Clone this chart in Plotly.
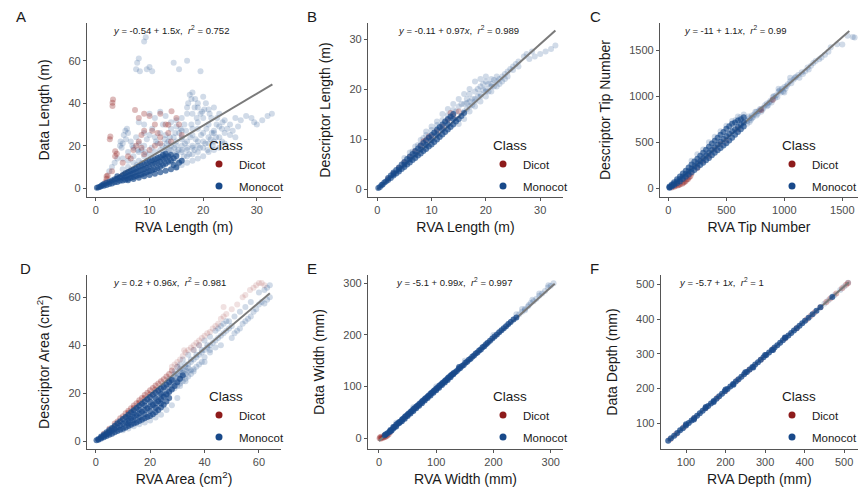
import plotly.graph_objects as go

W, H = 858, 493
FONT = "Liberation Sans, Arial, sans-serif"
DICOT = "#8E1B1B"
MONO = "#18498A"

# ---------------- DATA ----------------
classes = ["Dicot", "Monocot"]

# Panel A : RVA Length vs Data Length (m)
a_dicot = [(1.8,3),(2.0,4.5),(2.0,5.6),(2.2,6),(3.0,8),(2.7,24.4),(2.6,23),(3.1,38.7),(3.1,40.2),(3.2,41.7),
           (3.6,17.4),(3.6,15),(3.9,16.2),(5,12),(6,15),(7,18),(7.5,20),(8,22),(8.5,25),(9,27),(8,33),(9,35),
           (10,34),(11,30),(12,35),(13,30),(14.1,36.2),(13.5,29.9),(15,33),(15.5,30),(13.5,26),(12,24),(11,20),
           (10,18),(9,16),(12,21),(14,22),(16,25),(7.3,36.8),(10.5,27),(11.5,26),(6.5,14),(8.5,19)]
a_mono_halo = [(4.5,20),(5.0,21),(5.5,27),(6.0,26),(5.8,28),(4.8,19),(6.5,22),(7.0,19),(6.0,17),(7.5,24),(8.0,21),
               (8.5,18),(9.0,20),(9.5,23),(10.0,25),(10.5,28),(11.0,24),(11.5,21),(12.0,26),(12.5,30),(13.0,25),
               (13.5,22),(14.0,28),(14.5,24),(15.0,20),(15.5,26),(16.0,23),(16.5,30),(17.0,35),(17.2,40),(17.5,44),
               (18.0,45),(18.5,42),(19.0,38),(19.5,35),(20.0,43),(20.5,40),(21.0,37),(21.5,33),(22.0,38),(22.5,30),
               (23.0,35),(23.5,28),(24.0,32),(25.0,30),(19.0,28),(18.0,25),(17.0,22),(20.0,26),(21.0,24),(22.0,27),
               (19.0,20),(16.0,18),(17.0,18),(18.0,20),(20.0,22),(12.0,18),(13.0,19),(11.0,17),(10.0,16),(9.0,15),
               (8.0,13),(7.0,12),(6.0,10),(5.0,9),(14.0,18),(15.0,17),(16.0,20),
               (26.0,33),(27.0,32),(28.0,34),(29.0,33),(30.0,30),(31.0,32),(32.0,34),(32.8,35),(29.5,31),(24.0,21),(26.0,24),
               (3.0,10),(3.5,12),(4.0,14),(2.5,8),(5.0,14),(6.0,13),(7.0,15),(8.0,17),(9.0,30),(10.0,35),(11.0,33),
               (12.0,36),(13.0,34),(14.0,31),(15.0,29),(16.0,27),(8.0,31),(9.0,26),
               (7.5,56),(7.7,59),(8.0,61),(9.0,69),(9.3,71),(8.2,55),(10.0,57),(9.5,56),(10.5,55),(14.5,59),(15.5,56),
               (17.0,60),(19.5,55),
               (15,10),(16,11),(17,12),(18,13),(19,14),(20,15),(16,13),(18,16),(21,17),(22,18),(23,19),(14,12),(15,13),
               (17,15),(19,17),(13,15),(14,16),(15,16),(16,17),(17,19),(18,19),(19,22),(20,19),(21,21),(22,22),(23,24),
               (24,26),(13,17),(14,20),(15,22),(16,24),(18,28),(19,31),(20,33),(21,30),(22,26),(23,29),(18,35),(19,40),
               (17,38),(16,33),(15,32),
               (5.2,25),(5.6,23),(4.6,22),(6.8,20),(7.8,18),(9.2,17),(10.4,19),(11.2,22),(12.4,20),(13.2,21),(14.6,19),
               (15.4,18),(16.6,21),(17.6,24),(18.6,23),(19.6,25),(20.6,28),(21.6,26),(12.8,23),(13.8,24),(14.8,26),
               (15.8,28),(16.8,27),(17.8,30),(18.8,33),(19.8,36),(10.6,14),(11.6,15),(12.6,16),(13.6,18),(9.6,13),
               (8.6,12),(7.6,11),(6.6,9),(16.4,15),(17.4,16),(18.4,18),(19.4,19),(20.4,21),(21.4,23),(22.4,24),
               (24.5,28),(25.5,27),(26.5,29),(23.5,22),(25.0,25),(20.8,18),(21.8,20),(17.8,42),(18.4,38),(20.2,37),
               (21.2,35),(22.6,33),(23.6,31)]
a_mono_core = [(0.2,0.2),(0.5,0.5),(0.8,0.7),(1.0,1.1),(1.2,1.5),(1.5,1.2),(1.5,2.0),(2.0,1.6),(2.0,2.6),(2.5,2.0),
               (2.5,3.1),(3.0,2.3),(3.0,3.6),(3.5,2.8),(3.5,4.3),(4.0,3.0),(4.0,4.5),(4.0,5.6),(4.5,3.5),(4.5,5.1),
               (5.0,3.6),(5.0,4.9),(5.0,6.3),(5.5,4.0),(5.5,5.6),(5.5,7.1),(6.0,4.5),(6.0,6.1),(6.0,7.6),(6.5,5.0),
               (6.5,6.6),(6.5,8.1),(7.0,5.3),(7.0,7.1),(7.0,8.7),(7.5,5.8),(7.5,7.6),(7.5,9.3),(8.0,6.1),(8.0,8.1),
               (8.0,10.1),(8.5,6.5),(8.5,8.6),(8.5,10.6),(9.0,7.0),(9.0,9.1),(9.0,11.2),(9.5,7.5),(9.5,9.6),(9.5,11.9),
               (10.0,8.0),(10.0,10.2),(10.0,12.6),(10.5,8.5),(10.5,11.1),(10.5,13.1),(11.0,9.0),(11.0,11.6),(11.0,13.6),
               (11.5,9.5),(11.5,12.1),(11.5,14.2),(12.0,10.1),(12.0,12.6),(12.0,14.7),(12.5,11.0),(12.5,13.6),
               (12.5,15.6),(13.0,11.5),(13.0,14.1),(13.0,16.2),(13.5,12.5),(13.5,15.1),(14.0,13.1),(14.0,15.6),
               (14.5,14.1),(15.0,15.2),
               (6.0,3.8),(7.0,4.4),(8.0,5.0),(9.0,5.6),(10.0,6.2),(11.0,6.8),(12.0,7.5),(13.0,8.2),(14.0,9.0),
               (15.0,9.8),(14.5,11.0),(15.5,12.0),(16.0,13.0)]
a_fit = [-0.54, 1.5]          # intercept, slope
a_fit_x = [0.0, 32.9]

# Panel B : RVA Length vs Descriptor Length (m)
b_dicot = [(2,2),(3,3.1),(4,4.2),(5,5.3),(6,6.4),(7,7.5),(8,8.6),(9,9.8),(10,10.5),(11,11.6),(12,12.5),(13,13.8),
           (14,14.6),(15,15.5),(9.5,10.5),(13.5,15.2),(8.5,9.5)]
b_mono_halo = [(16,17),(16.5,16),(17,17.5),(17,19),(17.5,18),(18,19.5),(18,18),(18.5,20),(19,18.5),(19,20.5),
               (19.5,21),(20,20),(20,21.5),(20.5,19.5),(21,21),(21,22),(21.5,20.5),(22,21.5),(22,22.5),(22.5,22),
               (23,22.5),(23.5,23),(24,23.5),(24.5,24),(25,24.5),(25.5,25),(26,25.5),(27,26.5),(27.5,27),(28,26),
               (28.5,27.5),(29,26.5),(30,27),(31,27.5),(32,28),(32.8,28.7),(15,16.5),(14,15.8),(13,14.8),(12,13.8),
               (11,12.8),(10,11.8),(9,10.8),(8,9.8),(7,8.5),(6,7.3),(5,6.2),(15,13),(16,14),(17,15.5),(18,16.5),
               (19,17.5),(20,18.5),(21,19.5),(12,15),(13,16),(14,17),(15,18),(16,19),(17,20),(18,21.5),(19,22),
               (20,22.5),(10,12.5),(11,13.5),(9,11.5),(15.5,17),(16.5,18),
               (16,15.5),(17,16.5),(18,17.5),(19,19),(20,19.5),(21,20.5),(22,20.5),(23,21.5),(16.5,17.2),(17.5,16.8),
               (18.5,18.5),(19.5,19.8),(20.5,21),(21.5,21.8),(22.5,21),(23.5,22),(14.5,15.5),(13.5,14.2),(12.5,13.2),
               (11.5,12.2),(10.5,11.2),(9.5,10.2),(7.5,8.8),(6.5,7.5),(8.5,10.2),(24,22.5),(25,23.8),(26,24.5)]
b_mono_core = [(0.2,0.2),(0.5,0.4),(0.8,0.8),(1.0,0.9),(1.3,1.3),(1.6,1.5),(2.0,1.8),(2.0,2.2),(2.5,2.2),(2.5,2.7),
               (3.0,2.7),(3.0,3.3),(3.5,3.1),(3.5,3.8),(4.0,3.5),(4.0,4.3),(4.5,4.0),(4.5,4.9),(5.0,4.4),(5.0,5.4),
               (5.5,4.9),(5.5,6.0),(6.0,5.3),(6.0,6.5),(6.5,5.8),(6.5,7.0),(7.0,6.2),(7.0,7.6),(7.5,6.7),(7.5,8.1),
               (8.0,7.1),(8.0,8.7),(8.5,7.6),(8.5,9.2),(9.0,8.0),(9.0,9.7),(9.5,8.5),(9.5,10.3),(10.0,8.9),(10.0,10.8),
               (10.5,9.4),(10.5,11.3),(11.0,9.9),(11.0,11.9),(11.5,10.4),(11.5,12.4),(12.0,10.9),(12.0,12.9),
               (12.5,11.4),(12.5,13.5),(13.0,11.9),(13.0,14.0),(13.5,12.4),(13.5,14.5),(14.0,12.9),(14.0,15.0),
               (14.5,13.5),(15.0,14.0),(15.5,14.6),(16.0,15.2),(3.0,3.0),(5.0,4.9),(7.0,6.9),(9.0,8.8),(11.0,10.9),
               (13.0,12.9),(8.0,7.9),(10,9.8),(12,11.9),(6,5.9),(4,3.9),(14,14)]
b_fit = [-0.11, 0.97]
b_fit_x = [0.0, 32.8]

# Panel C : RVA Tip Number vs Descriptor Tip Number
c_dicot = [(30,10),(50,18),(60,25),(80,30),(90,35),(100,42),(120,50),(130,60),(150,80),(160,95),(170,100),(190,130),
           (300,300),(350,350),(400,420),(450,480),(500,520),(600,640),(800,850),(900,960),(200,160),(250,220),
           (180,120),(140,70)]
c_mono_halo = [(680,730),(700,760),(720,790),(740,800),(760,830),(780,840),(800,860),(820,870),(850,920),(870,930),
               (880,950),(900,990),(920,980),(930,1010),(950,1050),(970,1040),(980,1080),(1000,1100),(1020,1110),
               (1050,1160),(1080,1180),(1100,1210),(1120,1230),(1150,1260),(1180,1270),(1200,1310),(1230,1330),
               (1250,1360),(1300,1400),(1350,1450),(1380,1480),(1400,1530),(1455,1563),(1500,1560),(1545,1654),
               (1590,1640),(1606,1636),(1050,1200),(950,1080),(1000,1040),(600,780),(550,730),(450,620),(400,560),
               (350,500),(500,680),(650,800),(750,830),(850,890),(900,960),(700,720),(800,830),(300,420),(250,370),
               (200,300),(680,700),(720,760),(760,790),(620,770),(580,740),
               (660,740),(690,780),(710,740),(730,770),(770,810),(790,860),(810,850),(830,900),(860,900),(890,930),
               (910,1000),(940,990),(960,1060),(990,1050),(1010,1080),(1030,1130),(1060,1140),(1090,1200),
               (1130,1200),(1160,1240),(1210,1290),(1270,1380),(1320,1420)]
c_mono_core = [(10,5),(10,12),(10,20),(30,20),(30,30),(30,42),(50,35),(50,50),(50,65),(75,55),(75,75),(75,98),
               (100,75),(100,100),(100,128),(125,100),(125,128),(125,160),(150,125),(150,155),(150,192),
               (175,150),(175,185),(175,225),(200,175),(200,212),(200,258),(225,200),(225,240),(225,290),
               (250,225),(250,268),(250,322),(275,252),(275,296),(275,352),(300,278),(300,325),(300,385),
               (325,305),(325,355),(325,418),(350,330),(350,385),(350,450),(375,358),(375,415),(375,485),
               (400,385),(400,445),(400,515),(425,412),(425,475),(425,548),(450,438),(450,505),(450,580),
               (475,465),(475,535),(475,612),(500,490),(500,565),(500,645),(525,520),(525,592),(525,672),
               (550,548),(550,620),(550,700),(575,580),(575,640),(575,715),(600,610),(600,665),(600,735),
               (625,640),(625,690),(625,750),(650,670),(650,715),(650,770)]
c_fit = [-11.0, 1.1]
c_fit_x = [0.0, 1560.0]

# Panel D : RVA Area vs Descriptor Area (cm2)
d_dicot = [(3,3.1),(5,5.2),(7,7.3),(9,9.5),(10,10.4),(11,11.6),(12,12.7),(13,13.7),(14,14.9),(15,15.8),(16,17.0),
           (17,18.0),(18,19.2),(19,20.2),(20,21.2),(21,22.2),(22,23.2),(23,24.0),(24,25.0),(25,25.8),(26,27),
           (27,28),(28,29.5),(8,8.2),(16,16),(18,18),(20,19.5),(22,21.5),(14,13.8),(12,11.8)]
d_dicot_halo = [(28,31),(29,32),(30,33),(31,34),(32,35.5),(32.5,37.9),(33,37),(34,38),(35,39),(36,40),(37,41),
                (38,42),(39,43),(40,44),(41,45),(42,45.5),(43,47),(44,48),(45,49),(46,51),(47,52),(47,56),(48,53),
                (50,55),(52,57),(54,60),(55,61),(56.7,63),(58,64),(59,65),(60,66),(61,66),(62,65),(36,38),(38,40),
                (30,31)]
d_mono_halo = [(25,20),(26,21),(27,22.5),(28,23.3),(29,24),(30,25),(31,26),(32,27),(33,28),(34,29),(35,29.6),
               (36,30),(37,31),(38,32),(39,33),(30,23),(31,24),(32,25),(33,26),(34,27),(35,28),(36,29),(28,26),
               (29,27),(30,28),(31,29),(32,30),(33,31),(34,32),(35,33),(36,34),(37,35),(38,36),(39,37),(40,38),
               (41,39),(42,40),(42,43.5),(43,41),(44,42),(45,43),(46,44),(47,45),(48,46),(48,50),(49,47),(50,48),
               (50,43),(51,45),(52,46),(53,47),(54,49),(55,50),(56,51),(57,52),(58,54),(59,55),(60,57),(61,58),
               (62,57.4),(63,59),(64,60),(60,62),(62,63),(63,64),(64,65),(57,58),(55,56),(53,54),(51,52),(49,50),
               (46,48),(44,46),(40,42),(38,40),(36,38),(34,36),(32,34),(30,31),(40,35),(42,37),(44,39),(46,40),
               (28,22),(26,19),(24,17),(22,14),(25,23),(27,25),(29,29),(31,32),(45,47),(47,49),(40,33),(42,38),
               (23,19),(24,20),(25,21.5),(26,22.5),(27,23.5),(28,24.5),(29,25.5),(30,26.5),(31,27.5),(32,28.5),
               (33,29.5),(34,30.5),(21,16),(22,17),(23,17.5),(24,18.5),(25,19),(26,20),(27,21),
               (10,4.5),(12,5.3),(14,6.2),(16,7.0),(18,7.8),(20,8.6),(22,9.8),(24,11),(26,13),(28,15),(30,18),
               (27,26),(29,28),(31,30),(33,32),(35,34),(37,36),(39,38),(41,40),(29,22),(31,23),(33,25)]
d_mono_core = [(0.3,0.3),(1,0.6),(1,0.9),(2,1.1),(2,1.5),(2,1.9),(3,1.6),(3,2.2),(3,2.8),(4,2.1),(4,2.9),(4,3.7),
               (5,2.6),(5,3.6),(5,4.6),(6,3.1),(6,4.3),(6,5.5),(7,3.7),(7,5.0),(7,6.4),(8,4.2),(8,5.8),(8,7.4),
               (9,4.7),(9,6.5),(9,8.3),(10,5.2),(10,7.2),(10,9.2),(11,5.7),(11,7.9),(11,10.1),(12,6.3),(12,8.6),
               (12,11.0),(13,6.8),(13,9.4),(13,12.0),(14,7.3),(14,10.1),(14,12.9),(15,7.8),(15,10.8),(15,13.8),
               (16,8.4),(16,11.5),(16,14.7),(17,8.9),(17,12.2),(17,15.6),(18,9.5),(18,13.0),(18,16.5),(19,10.0),
               (19,13.7),(19,17.5),(20,10.5),(20,14.4),(20,18.4),(21,11.2),(21,15.1),(21,19.3),(22,12.0),(22,15.8),
               (22,20.2),(23,13.0),(23,16.6),(23,21.0),(24,14.0),(24,17.5),(24,21.8),(25,15.2),(25,18.5),(26,16.5),
               (26,19.5),(27,18.0),(27,20.5),(12,7.4),(12,9.8),(14,8.7),(14,11.5),(16,9.9),(16,13.1),(18,11.2),
               (18,14.8),(20,12.4),(20,16.4),(22,13.9),(22,18.0),(24,15.7),(24,19.7),(25,22.5),(26,23.5),
               (27,24.5),(28,25.5),(28,21.5),(29,23),(30,24.5),(31,26),(32,27.5)]
d_fit = [0.2, 0.96]
d_fit_x = [0.0, 64.0]

# Panel E : RVA Width vs Data Width (mm)
e_dicot = [(1,0),(3,-1),(5,1),(7,1),(9,2),(11,3),(13,4),(15,6),(17,8),(4,3),(2,2),(10,6),(20,12)]
e_mono_halo = [(245,240),(250,245),(255,250),(260,255),(265,262),(270,265),(275,270),(280,276),(285,280),(290,285),
               (295,292),(300,295),(305,300),(268,268),(240,240),(255,248),(200,200),(150,150),(100,100),(60,60),
               (30,30),(250,250),(262,258),(280,280),(296,296)]
e_mono_core = [(15,10),(18,12),(20,16),(22,15),(25,19),(27,22),(30,23),(32,28),(35,29),(37,32),(40,33),(42,38),
               (45,38),(47,43),(50,43),(52,48),(55,48),(57,53),(60,53),(62,58),(65,58),(67,63),(70,63),(72,68),
               (75,68),(77,73),(80,73),(82,78),(85,78),(87,83),(90,83),(92,88),(95,88),(97,93),(100,93),(102,98),
               (105,98),(107,103),(110,103),(112,108),(115,108),(117,113),(120,113),(122,118),(125,118),(127,123),
               (130,124),(133,128),(136,130),(139,134),(142,136),(145,140),(148,142),(151,146),(154,148),(157,152),
               (160,154),(163,158),(166,160),(169,164),(172,166),(175,170),(178,172),(181,176),(184,178),(187,182),
               (190,185),(194,189),(198,193),(202,197),(206,201),(210,205),(214,209),(218,213),(222,217),(226,221),
               (230,225),(235,230),(240,234),
               (10,6),(12,8),(20,14),(25,22),(30,26),(35,31),(40,36),(45,41),(50,46),(55,51),(60,56),(65,61),
               (70,66),(75,71),(80,76),(85,81),(90,86),(95,91),(100,96),(105,101),(110,106),(115,111),(120,116),
               (125,121),(130,126),(140,138)]
e_fit = [-5.1, 0.99]
e_fit_x = [0.0, 307.0]

# Panel F : RVA Depth vs Data Depth (mm)
f_dicot = [(60,54),(75,69),(95,89),(120,114),(150,144),(180,174),(200,193),(230,224),(260,254),(290,284),(320,314),
           (350,344),(380,374),(405,399),(415,409),(425,419),(440,434),(455,449),(465,459),(480,474),(495,489),
           (505,499),(510,504)]
f_mono_halo = [(450,444),(460,454),(475,469),(490,484),(500,494),(510,505)]
f_mono_core = [(55,50),(62,57),(70,64),(78,72),(85,80),(92,86),(100,94),(107,101),(114,108),(121,115),(128,122),
               (135,129),(142,136),(149,143),(156,150),(163,157),(170,164),(177,171),(184,178),(191,185),(198,192),
               (205,199),(212,206),(219,213),(226,220),(233,227),(240,234),(247,241),(254,248),(261,255),(268,262),
               (275,269),(282,276),(289,283),(296,290),(303,297),(310,304),(317,311),(324,318),(331,325),(338,332),
               (345,339),(352,346),(359,353),(366,360),(373,367),(380,374),(387,381),(394,388),(401,395),(410,404),
               (420,414),(430,424),(440,434),(470,464),(100,97),(150,147),(200,197),(250,247),(300,297),(350,347),
               (120,111),(170,161),(220,211),(270,261),(320,311)]
f_fit = [-5.7, 1.0]
f_fit_x = [55.0, 512.0]

panel_letters = ["A", "B", "C", "D", "E", "F"]
x_titles = ["RVA Length (m)", "RVA Length (m)", "RVA Tip Number",
            "RVA Area (cm<sup>2</sup>)", "RVA Width (mm)", "RVA Depth (mm)"]
y_titles = ["Data Length (m)", "Descriptor Length (m)", "Descriptor Tip Number",
            "Descriptor Area (cm<sup>2</sup>)", "Data Width (mm)", "Data Depth (mm)"]
equations = ["<i>y</i> = -0.54 + 1.5<i>x</i>,  <i>r</i><sup>2</sup> = 0.752",
             "<i>y</i> = -0.11 + 0.97<i>x</i>,  <i>r</i><sup>2</sup> = 0.989",
             "<i>y</i> = -11 + 1.1<i>x</i>,  <i>r</i><sup>2</sup> = 0.99",
             "<i>y</i> = 0.2 + 0.96<i>x</i>,  <i>r</i><sup>2</sup> = 0.981",
             "<i>y</i> = -5.1 + 0.99<i>x</i>,  <i>r</i><sup>2</sup> = 0.997",
             "<i>y</i> = -5.7 + 1<i>x</i>,  <i>r</i><sup>2</sup> = 1"]
x_ticks = [[0, 10, 20, 30], [0, 10, 20, 30], [0, 500, 1000, 1500],
           [0, 20, 40, 60], [0, 100, 200, 300], [100, 200, 300, 400, 500]]
y_ticks = [[0, 20, 40, 60], [0, 10, 20, 30], [0, 500, 1000, 1500],
           [0, 20, 40, 60], [0, 100, 200, 300], [100, 200, 300, 400, 500]]

# ---------------- LAYOUT (pixel geometry) ----------------
panels = [
    dict(px=(87, 281), py=(23, 197), xr=[-1.65, 34.5], yr=[-4.1, 77.7], eq=(171, 30), leg=(207, 132), lt=(14, 16),
         dic=[a_dicot], mh=[a_mono_halo], mc=a_mono_core, fit=a_fit, fx=a_fit_x, co=0.68),
    dict(px=(368, 563), py=(23, 197), xr=[-1.7, 34.2], yr=[-1.6, 33.2], eq=(458, 30), leg=(491, 132), lt=(305, 16),
         dic=[b_dicot], mh=[b_mono_halo], mc=b_mono_core, fit=b_fit, fx=b_fit_x, co=0.68),
    dict(px=(660, 858), py=(23, 197), xr=[-72, 1635], yr=[-94, 1793], eq=(735, 30), leg=(780, 132), lt=(588, 16),
         dic=[c_dicot], mh=[c_mono_halo], mc=c_mono_core, fit=c_fit, fx=c_fit_x, co=0.68),
    dict(px=(87, 281), py=(275, 449), xr=[-3.2, 68.1], yr=[-3.3, 69.3], eq=(169, 282), leg=(207, 383), lt=(18, 268),
         dic=[d_dicot_halo, d_dicot], mh=[d_mono_halo], mc=d_mono_core, fit=d_fit, fx=d_fit_x, co=0.7),
    dict(px=(368, 563), py=(275, 449), xr=[-19.2, 321.5], yr=[-20.7, 316], eq=(454, 282), leg=(491, 383), lt=(305, 268),
         dic=[e_dicot], mh=[e_mono_halo], mc=e_mono_core, fit=e_fit, fx=e_fit_x, co=0.78),
    dict(px=(660.7, 858), py=(275, 449), xr=[36, 535], yr=[26, 527], eq=(721, 282), leg=(780, 383), lt=(588, 268),
         dic=[f_dicot], mh=[f_mono_halo], mc=f_mono_core, fit=f_fit, fx=f_fit_x, co=0.78),
]

fig = go.Figure()
layout = dict(width=W, height=H, margin=dict(l=0, r=0, t=0, b=0, autoexpand=False), paper_bgcolor="white",
              plot_bgcolor="white", font=dict(family=FONT, color="#1a1a1a"), annotations=[])

def xs(pts):
    return [p[0] for p in pts]

def ys(pts):
    return [p[1] for p in pts]

for i, p in enumerate(panels):
    n = i + 1
    sfx = "" if n == 1 else str(n)
    xa, ya = "x" + sfx, "y" + sfx
    leg = "legend" + sfx
    for pts in p["mh"]:
        fig.add_trace(go.Scatter(x=xs(pts), y=ys(pts), mode="markers", xaxis=xa, yaxis=ya,
                                 marker=dict(color=MONO, size=6, opacity=0.2, line=dict(width=0)),
                                 showlegend=False, hoverinfo="skip"))
    for j, pts in enumerate(p["dic"]):
        op = 0.13 if len(p["dic"]) > 1 and j == 0 else 0.3
        fig.add_trace(go.Scatter(x=xs(pts), y=ys(pts), mode="markers", xaxis=xa, yaxis=ya,
                                 marker=dict(color=DICOT, size=6, opacity=op, line=dict(width=0)),
                                 showlegend=False, hoverinfo="skip"))
    b0, b1 = p["fit"]
    fig.add_trace(go.Scatter(x=p["fx"], y=[b0 + b1 * v for v in p["fx"]], mode="lines", xaxis=xa, yaxis=ya,
                             line=dict(color="#7a7a7a", width=2), showlegend=False, hoverinfo="skip"))
    fig.add_trace(go.Scatter(x=xs(p["mc"]), y=ys(p["mc"]), mode="markers", xaxis=xa, yaxis=ya,
                             marker=dict(color=MONO, size=6, opacity=p["co"], line=dict(width=0)),
                             showlegend=False, hoverinfo="skip"))
    for cname, col in zip(classes, [DICOT, MONO]):
        fig.add_trace(go.Scatter(x=[None], y=[None], mode="markers", xaxis=xa, yaxis=ya, name=cname,
                                 marker=dict(color=col, size=7), legend=leg, legendgroup=cname + sfx,
                                 showlegend=True))

    axis_common = dict(showgrid=False, zeroline=False, showline=True, linecolor="#555555", linewidth=1.2,
                       ticks="outside", ticklen=3, tickcolor="#555555", tickwidth=1,
                       tickfont=dict(size=11, color="#4d4d4d", family=FONT))
    layout["xaxis" + sfx] = dict(axis_common, domain=[p["px"][0] / W, p["px"][1] / W], range=p["xr"],
                                 tickvals=x_ticks[i], anchor=ya,
                                 title=dict(text=x_titles[i], font=dict(size=14, color="#1a1a1a"), standoff=6))
    layout["yaxis" + sfx] = dict(axis_common, domain=[1 - p["py"][1] / H, 1 - p["py"][0] / H], range=p["yr"],
                                 tickvals=y_ticks[i], anchor=xa,
                                 title=dict(text=y_titles[i], font=dict(size=14, color="#1a1a1a"), standoff=15))
    layout[leg] = dict(x=p["leg"][0] / W, y=1 - p["leg"][1] / H, xanchor="left", yanchor="top",
                       bgcolor="rgba(0,0,0,0)", font=dict(size=11.5, color="#1a1a1a"),
                       title=dict(text="Class", font=dict(size=13.5, color="#1a1a1a")),
                       tracegroupgap=3, itemwidth=30, indentation=-8)
    layout["annotations"].append(dict(text=equations[i], x=p["eq"][0] / W, y=1 - p["eq"][1] / H,
                                      xref="paper", yref="paper", showarrow=False, xanchor="center",
                                      yanchor="middle", font=dict(size=9.5, color="#1a1a1a")))
    layout["annotations"].append(dict(text=panel_letters[i], x=p["lt"][0] / W, y=1 - p["lt"][1] / H,
                                      xref="paper", yref="paper", showarrow=False, xanchor="left",
                                      yanchor="middle", font=dict(size=15, color="#1a1a1a")))

fig.update_layout(**layout)
fig.write_html("out.html", config={"displayModeBar": False},
               post_script="document.body.style.margin='0px';document.body.style.overflow='hidden';")
